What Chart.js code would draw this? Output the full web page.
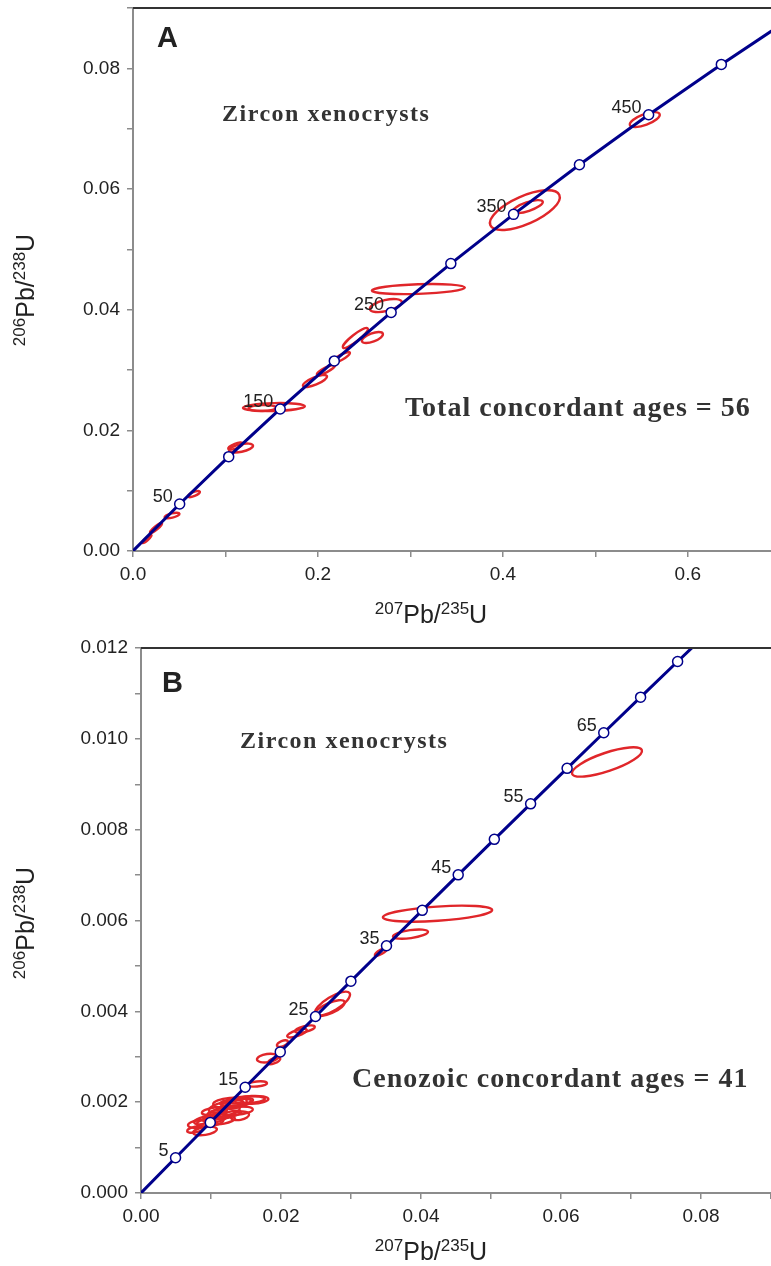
<!DOCTYPE html>
<html>
<head>
<meta charset="utf-8">
<script src="https://cdn.jsdelivr.net/npm/chart.js@4.4.0/dist/chart.umd.min.js"></script>
<style>
body { margin: 0; background: #fff; width: 771px; height: 1266px; overflow: hidden; position: relative; }
.box { position: absolute; left: 0; width: 771px; }
#boxA { top: 0; height: 630px; }
#boxB { top: 630px; height: 636px; }
</style>
</head>
<body>
<div class="box" id="boxA"><canvas id="chartA"></canvas></div>
<div class="box" id="boxB"><canvas id="chartB"></canvas></div>
<script>
// Concordia, panel A (ages in Ma, 207Pb/235U, 206Pb/238U)
const agesA = [0, 50, 100, 150, 200, 250, 300, 350, 400, 450, 500, 550];
const x235A = [0, 0.050475, 0.10350, 0.15920, 0.21771, 0.27917, 0.34374, 0.41157, 0.48282, 0.55766, 0.63628, 0.71886];
const y238A = [0, 0.0077864, 0.015633, 0.023542, 0.031511, 0.039543, 0.047637, 0.055795, 0.064016, 0.072300, 0.080650, 0.089062];
const labelAgesA = [50, 150, 250, 350, 450];

// Concordia, panel B
const agesB = [0, 5, 10, 15, 20, 25, 30, 35, 40, 45, 50, 55, 60, 65, 70, 75, 80];
const x235B = [0, 0.0049364, 0.0098972, 0.0148824, 0.0198923, 0.0249269, 0.029986, 0.0350707, 0.0401802, 0.045315, 0.050475, 0.0556607, 0.0608719, 0.0661087, 0.0713713, 0.0766601, 0.0819757];
const y238B = [0, 0.00077593, 0.0015525, 0.0023296, 0.0031073, 0.0038857, 0.0046646, 0.0054442, 0.0062243, 0.0070051, 0.0077864, 0.0085684, 0.0093509, 0.010134, 0.010918, 0.011702, 0.012487];
const labelAgesB = [5, 15, 25, 35, 45, 55, 65];

// Error ellipses, panel A: centre, 2s errors, correlation
const ellXA = [0.0151, 0.0249, 0.0422, 0.0659, 0.1168, 0.1110, 0.1524, 0.1968, 0.2086, 0.2249, 0.2405, 0.2589, 0.2735, 0.3086, 0.4238, 0.4270, 0.5535, 0.1400];
const ellYA = [0.00199, 0.00381, 0.00588, 0.00944, 0.01707, 0.01740, 0.02386, 0.02817, 0.03000, 0.03206, 0.03530, 0.03538, 0.04068, 0.04341, 0.05650, 0.05708, 0.07150, 0.02370];
const ellSXA = [0.0049, 0.0065, 0.0081, 0.0065, 0.0130, 0.0080, 0.0335, 0.0130, 0.0097, 0.0097, 0.0135, 0.0114, 0.0173, 0.0503, 0.0378, 0.0162, 0.0162, 0.0150];
const ellSYA = [0.00066, 0.00083, 0.00046, 0.00050, 0.00075, 0.00060, 0.00066, 0.00100, 0.00083, 0.00090, 0.00166, 0.00091, 0.00108, 0.00083, 0.00330, 0.00108, 0.00124, 0.00050];
const ellRhoA = [0.9, 0.9, 0.6, 0.7, 0.5, 0.7, 0.2, 0.75, 0.85, 0.85, 0.9, 0.6, 0.5, 0.3, 0.65, 0.7, 0.65, 0.1];

// Error ellipses, panel B
const ellXB = [0.00829, 0.00914, 0.01057, 0.0120, 0.01271, 0.0150, 0.01357, 0.01657, 0.00986, 0.01414, 0.01807, 0.0190, 0.02021, 0.02229, 0.02343, 0.02736, 0.0270, 0.03429, 0.0385, 0.04236, 0.06657, 0.0112, 0.0131, 0.0078, 0.0140, 0.0108, 0.0125, 0.0105, 0.0118, 0.0135, 0.0158, 0.0090];
const ellYB = [0.00152, 0.001366, 0.00165, 0.0018, 0.00199, 0.00205, 0.00181, 0.0024, 0.00156, 0.0017, 0.00297, 0.00291, 0.00329, 0.00352, 0.00361, 0.00417, 0.00407, 0.00531, 0.0057, 0.00615, 0.00949, 0.00188, 0.00195, 0.00140, 0.00198, 0.00172, 0.00172, 0.00180, 0.00160, 0.00200, 0.00205, 0.00160];
const ellSXB = [0.00157, 0.0017, 0.0017, 0.0021, 0.0024, 0.0027, 0.0024, 0.00143, 0.0019, 0.0013, 0.0015, 0.0009, 0.0008, 0.0014, 0.0014, 0.0025, 0.0021, 0.0009, 0.0025, 0.0078, 0.0050, 0.0015, 0.0016, 0.0012, 0.0020, 0.0014, 0.0018, 0.0018, 0.0016, 0.0022, 0.0024, 0.0014];
const ellSYB = [0.00012, 0.00013, 0.00014, 0.00016, 0.00015, 0.00011, 0.00013, 0.00008, 0.00013, 0.00013, 0.00013, 0.0001, 0.0001, 0.00013, 0.00011, 0.00036, 0.00024, 0.00012, 0.00014, 0.00024, 0.00044, 0.00015, 0.00013, 0.0001, 0.00015, 0.00014, 0.00012, 0.00012, 0.00012, 0.00011, 0.00012, 0.00012];
const ellRhoB = [0.3, 0.4, 0.4, 0.5, 0.3, 0.3, 0.3, 0.3, 0.4, 0.3, 0.3, 0.6, 0.5, 0.7, 0.6, 0.75, 0.7, 0.8, 0.5, 0.45, 0.75, 0.5, 0.3, 0.5, 0.6, 0.2, 0.7, 0.4, 0.5, 0.4, 0.2, 0.5];

const SANS = '"Liberation Sans", Arial, sans-serif';
const SERIF = '"Liberation Serif", "Times New Roman", serif';
const NAVY = '#00008b';
const RED = '#e0262a';
const AXIS = '#8c8c8c';

// draws "206Pb/238U" style titles with raised mass numbers
function drawIsoTitle(ctx, x, y, rotate, parts) {
    ctx.save();
    ctx.translate(x, y);
    if (rotate) ctx.rotate(-Math.PI / 2);
    const fMain = '25px ' + SANS, fSup = '17px ' + SANS;
    let w = 0;
    parts.forEach(p => { ctx.font = p[1] ? fSup : fMain; w += ctx.measureText(p[0]).width; });
    let cx = -w / 2;
    ctx.fillStyle = '#222';
    ctx.textAlign = 'left';
    ctx.textBaseline = 'alphabetic';
    parts.forEach(p => {
        ctx.font = p[1] ? fSup : fMain;
        ctx.fillText(p[0], cx, p[1] ? -9 : 0);
        cx += ctx.measureText(p[0]).width;
    });
    ctx.restore();
}

function ellipsePlugin(e) {
    return {
        id: 'ellipses',
        beforeDatasetsDraw(chart) {
            const xs = chart.scales.x, ys = chart.scales.y, ctx = chart.ctx, area = chart.chartArea;
            const kx = xs.getPixelForValue(1) - xs.getPixelForValue(0);
            const ky = ys.getPixelForValue(1) - ys.getPixelForValue(0);
            ctx.save();
            ctx.beginPath();
            ctx.rect(area.left, area.top, area.right - area.left, area.bottom - area.top);
            ctx.clip();
            ctx.strokeStyle = RED;
            ctx.lineWidth = 2.4;
            for (let i = 0; i < e.x.length; i++) {
                const a = Math.pow(kx * e.sx[i], 2), d = Math.pow(ky * e.sy[i], 2);
                const b = e.rho[i] * kx * ky * e.sx[i] * e.sy[i];
                const m = (a + d) / 2, r = Math.sqrt(Math.pow((a - d) / 2, 2) + b * b);
                const th = 0.5 * Math.atan2(2 * b, a - d);
                ctx.beginPath();
                ctx.ellipse(xs.getPixelForValue(e.x[i]), ys.getPixelForValue(e.y[i]),
                    Math.sqrt(m + r), Math.sqrt(Math.max(m - r, 0.3)), th, 0, 2 * Math.PI);
                ctx.stroke();
            }
            ctx.restore();
        }
    };
}

function textPlugin(p) {
    return {
        id: 'texts',
        afterDraw(chart) {
            const ctx = chart.ctx, area = chart.chartArea;
            const xs = chart.scales.x, ys = chart.scales.y;
            ctx.save();
            // top frame line
            ctx.strokeStyle = '#333';
            ctx.lineWidth = 2;
            ctx.beginPath();
            ctx.moveTo(area.left, area.top);
            ctx.lineTo(area.right, area.top);
            ctx.stroke();
            // panel letter
            ctx.fillStyle = '#222';
            ctx.textAlign = 'left';
            ctx.textBaseline = 'alphabetic';
            ctx.font = 'bold 29px ' + SANS;
            ctx.fillText(p.letter, area.left + p.letterPos[0], area.top + p.letterPos[1]);
            // notes
            ctx.fillStyle = '#333';
            ctx.font = 'bold 24px ' + SERIF;
            ctx.letterSpacing = '1.5px';
            ctx.fillText('Zircon xenocrysts', area.left + p.notePos[0], area.top + p.notePos[1]);
            ctx.font = 'bold 28px ' + SERIF;
            ctx.letterSpacing = '1px';
            ctx.fillText(p.total, area.left + p.totalPos[0], area.top + p.totalPos[1]);
            ctx.letterSpacing = '0px';
            // age labels
            ctx.fillStyle = '#222';
            ctx.font = '18px ' + SANS;
            ctx.textAlign = 'right';
            p.labelAges.forEach(age => {
                const i = p.ages.indexOf(age);
                ctx.fillText(String(age), xs.getPixelForValue(p.xs[i]) - 7, ys.getPixelForValue(p.ys[i]) - 2);
            });
            ctx.restore();
            drawIsoTitle(ctx, p.xTitle[0], p.xTitle[1], false, [['207', 1], ['Pb/', 0], ['235', 1], ['U', 0]]);
            drawIsoTitle(ctx, p.yTitle[0], p.yTitle[1], true, [['206', 1], ['Pb/', 0], ['238', 1], ['U', 0]]);
        }
    };
}

function isMajor(v, step) {
    return Math.abs(v / step - Math.round(v / step)) < 1e-6;
}

function noPad(s) {
    s.paddingLeft = 0; s.paddingRight = 0; s.paddingTop = 0; s.paddingBottom = 0;
}

function makeChart(id, cfg) {
    const pts = cfg.ages.map((a, i) => ({ x: cfg.xs[i], y: cfg.ys[i] }));
    const marks = pts.filter((p, i) => cfg.ages[i] > 0);
    return new Chart(document.getElementById(id), {
        type: 'scatter',
        data: {
            datasets: [{
                data: marks,
                showLine: false,
                pointRadius: 5,
                pointBackgroundColor: '#fff',
                pointBorderColor: NAVY,
                pointBorderWidth: 1.5
            }, {
                data: pts,
                showLine: true,
                borderColor: NAVY,
                borderWidth: 3,
                pointRadius: 0
            }]
        },
        options: {
            responsive: true,
            maintainAspectRatio: false,
            animation: false,
            layout: { autoPadding: false, padding: { top: cfg.top, left: 0, right: 0, bottom: 0 } },
            plugins: { legend: { display: false }, tooltip: { enabled: false } },
            scales: {
                x: {
                    type: 'linear', position: 'bottom', min: 0, max: cfg.xMax,
                    afterFit: s => { s.height = cfg.xHeight; noPad(s); },
                    ticks: {
                        stepSize: cfg.xStep, includeBounds: false, autoSkip: false, maxRotation: 0,
                        padding: 6, color: '#222', font: { family: SANS, size: 19 },
                        callback: v => isMajor(v, cfg.xStep * 2) ? v.toFixed(cfg.xDec) : ''
                    },
                    grid: { drawOnChartArea: false, drawTicks: true, tickLength: 6, color: AXIS, lineWidth: 1.5 },
                    border: { color: AXIS, width: 2 }
                },
                y: {
                    type: 'linear', min: 0, max: cfg.yMax,
                    afterFit: s => { s.width = cfg.yWidth; noPad(s); },
                    ticks: {
                        stepSize: cfg.yStep, includeBounds: false, autoSkip: false,
                        padding: 7, color: '#222', font: { family: SANS, size: 19 },
                        callback: v => isMajor(v, cfg.yStep * 2) ? v.toFixed(cfg.yDec) : ''
                    },
                    grid: { drawOnChartArea: false, drawTicks: true, tickLength: 6, color: AXIS, lineWidth: 1.5 },
                    border: { color: AXIS, width: 2 }
                }
            }
        },
        plugins: [
            ellipsePlugin(cfg.ell),
            textPlugin(cfg.text)
        ]
    });
}

makeChart('chartA', {
    ages: agesA, xs: x235A, ys: y238A,
    top: 8, xHeight: 79, yWidth: 133,
    xMax: 0.69, xStep: 0.1, xDec: 1,
    yMax: 0.09, yStep: 0.01, yDec: 2,
    ell: { x: ellXA, y: ellYA, sx: ellSXA, sy: ellSYA, rho: ellRhoA },
    text: {
        letter: 'A', letterPos: [24, 39],
        notePos: [89, 113],
        total: 'Total concordant ages = 56', totalPos: [272, 408],
        labelAges: labelAgesA, ages: agesA, xs: x235A, ys: y238A,
        xTitle: [431, 623], yTitle: [34, 290]
    }
});

makeChart('chartB', {
    ages: agesB, xs: x235B, ys: y238B,
    top: 18, xHeight: 73, yWidth: 141,
    xMax: 0.09, xStep: 0.01, xDec: 2,
    yMax: 0.012, yStep: 0.001, yDec: 3,
    ell: { x: ellXB, y: ellYB, sx: ellSXB, sy: ellSYB, rho: ellRhoB },
    text: {
        letter: 'B', letterPos: [21, 44],
        notePos: [99, 100],
        total: 'Cenozoic concordant ages = 41', totalPos: [211, 439],
        labelAges: labelAgesB, ages: agesB, xs: x235B, ys: y238B,
        xTitle: [431, 630], yTitle: [34, 293]
    }
});
</script>
</body>
</html>
